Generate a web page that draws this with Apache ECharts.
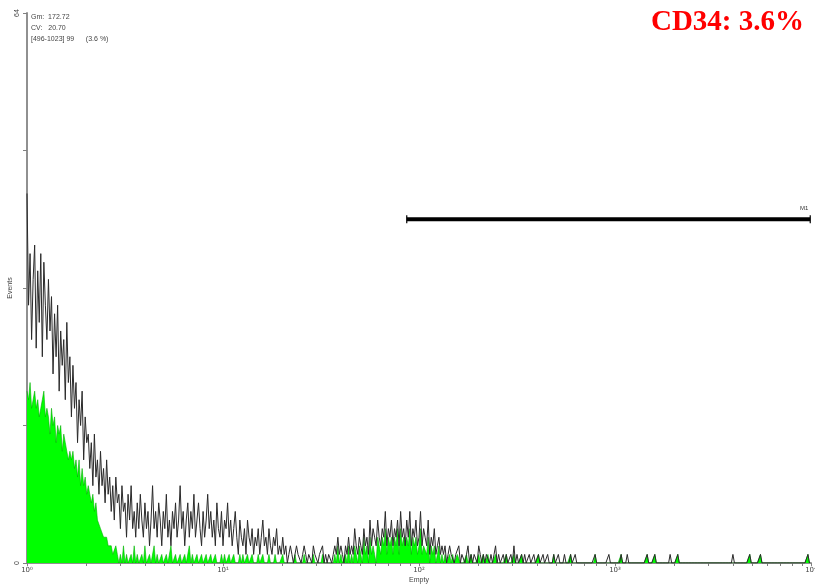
<!DOCTYPE html>
<html><head><meta charset="utf-8">
<script src="https://cdn.jsdelivr.net/npm/echarts@6/dist/echarts.min.js"></script>
<style>html,body{margin:0;padding:0;background:#fff}#c{width:815px;height:585px}</style>
</head><body><div id="c"></div>
<script>
// ---- data: heights per 2-channel bin (1024 channels over 4 log decades) ----
const channelsPerBin = 2;
const totalCounts = [
43,30,36,26,33,37,25,34,28,36,
24,35,30,26,33,27,31,22,29,24,
30,20,27,23,26,19,28,21,24,17,
23,18,21,14,19,16,20,12,17,14,
15,11,14,9,15,10,12,8,13,9,
11,7,12,8,10,6,9,5,10,7,
8,4,9,6,7,3,8,5,9,4,
6,3,7,4,8,5,3,7,4,6,
2,5,9,4,6,3,7,5,2,6,
4,8,3,5,2,6,4,7,3,5,
9,4,6,2,5,7,3,6,4,8,
3,5,7,4,2,6,3,5,8,4,
6,3,5,2,7,4,3,6,2,5,
4,7,3,5,2,4,6,3,1,5,
3,2,4,1,5,3,2,4,1,3,
2,4,1,3,5,2,3,1,4,2,
1,3,2,4,1,2,1,3,1,2,
0,1,2,1,0,1,2,1,1,0,
1,2,1,0,1,1,0,2,1,1,
0,1,1,2,0,1,0,1,1,0,
1,2,1,3,1,2,1,0,2,1,
3,1,2,1,4,2,1,3,2,1,
4,2,3,1,5,2,4,3,2,5,
3,2,4,3,6,2,4,3,5,2,
4,3,5,2,6,3,4,2,5,3,
6,2,4,3,5,2,3,6,2,4,
3,2,5,1,3,2,4,1,2,3,
1,2,1,2,0,1,2,1,1,0,
1,1,2,0,1,1,0,1,2,0,
1,0,1,1,0,2,1,0,1,0,
1,1,0,1,0,1,2,0,1,0,
0,1,0,1,0,0,1,0,2,0,
1,0,0,1,0,1,0,0,1,0,
0,1,0,0,1,0,0,1,0,0,
1,0,0,0,1,0,0,1,0,0,
0,1,0,0,0,1,0,0,1,0,
0,0,0,0,0,0,0,0,0,0,
0,1,0,0,0,0,0,0,0,0,
1,0,0,0,0,0,0,0,1,0,
0,0,1,0,0,0,0,0,0,0,
0,0,0,0,0,1,0,0,0,0,
1,0,0,0,0,0,0,0,0,0,
1,0,0,0,0,1,0,0,0,0,
0,0,0,0,0,0,0,0,0,0,
0,0,0,0,0,0,0,0,0,0,
0,0,0,0,0,0,0,0,0,0,
0,1,0,0,0,0,0,0,0,0,
0,0,1,0,0,0,0,0,0,1,
0,0,0,0,0,0,0,0,0,0,
0,0,0,0,0,0,0,0,0,0,
0,0,0,0,0,0,0,0,0,0,
1,0
];
const cd34Counts = [
20,19,21,18,19,20,18,19,17,18,
19,20,17,18,17,15,18,16,17,14,
16,15,16,13,15,14,14,12,13,12,
13,11,12,10,12,9,11,9,10,8,
9,8,7,8,6,7,5,5,4,4,
3,3,3,2,2,2,1,1,2,1,
0,1,0,2,0,1,0,0,1,0,
2,0,1,0,0,1,0,2,0,0,
1,0,0,2,0,1,0,0,1,0,
0,1,0,0,2,0,0,1,0,0,
1,0,0,1,0,0,2,0,1,0,
0,1,0,0,1,0,0,1,0,0,
1,0,0,1,0,0,0,1,0,1,
0,0,1,0,0,1,0,0,0,1,
0,1,0,0,1,0,0,1,0,0,
0,1,0,0,1,0,0,0,1,0,
0,0,1,0,0,0,0,1,0,0,
0,0,0,0,0,1,0,0,0,0,
0,1,0,0,0,0,0,1,0,0,
0,0,0,1,0,0,0,0,0,0,
0,1,0,2,0,1,0,0,1,0,
2,0,1,0,2,1,0,2,1,0,
3,1,2,0,3,1,2,1,0,3,
2,1,3,2,4,1,3,2,3,1,
3,2,4,1,4,2,3,2,3,2,
4,1,3,2,3,1,2,4,1,2,
2,1,3,0,2,1,2,0,1,2,
0,1,0,1,0,0,1,0,1,0,
0,1,1,0,0,0,0,1,0,0,
1,0,0,0,0,1,0,0,1,0,
0,1,0,0,0,0,1,0,0,0,
0,0,0,1,0,0,0,0,1,0,
0,0,0,1,0,0,0,0,0,0,
0,0,0,0,1,0,0,0,0,0,
0,0,0,0,1,0,0,0,0,0,
0,0,0,0,0,1,0,0,0,0,
0,0,0,0,0,0,0,0,0,0,
0,1,0,0,0,0,0,0,0,0,
0,0,0,0,0,0,0,0,1,0,
0,0,0,0,0,0,0,0,0,0,
0,0,0,0,0,1,0,0,0,0,
1,0,0,0,0,0,0,0,0,0,
0,0,0,0,0,1,0,0,0,0,
0,0,0,0,0,0,0,0,0,0,
0,0,0,0,0,0,0,0,0,0,
0,0,0,0,0,0,0,0,0,0,
0,0,0,0,0,0,0,0,0,0,
0,0,1,0,0,0,0,0,0,1,
0,0,0,0,0,0,0,0,0,0,
0,0,0,0,0,0,0,0,0,0,
0,0,0,0,0,0,0,0,0,0,
1,0
];
const markerRange = [496, 1023];
const markerLevel = 40;
const markerName = 'M1';
const xTickValues = [1,2,3,4,5,6,7,8,9,10,20,30,40,50,60,70,80,90,100,200,300,400,500,600,700,800,900,1000,2000,3000,4000,5000,6000,7000,8000,9000,10000];
const xLabelValues = [1,10,100,1000,10000];
const xTickLabels = ['10⁰','10¹','10²','10³','10⁴'];
const yTickLabels = [0, 64];
const statsLines = ['Gm:  172.72', 'CV:   20.70', '[496-1023] 99      (3.6 %)'];
const titleText = 'CD34: 3.6%';

const toPairs = arr => arr.map((v, i) => [i * channelsPerBin, v]);

const chart = echarts.init(document.getElementById('c'), null, {renderer: 'canvas'});
chart.setOption({
  animation: false,
  backgroundColor: '#fff',
  title: {
    text: titleText, right: 6, top: 3,
    textStyle: {color: '#ff0000', fontFamily: 'Liberation Serif', fontWeight: 'bold', fontSize: 29}
  },
  grid: {left: 27, right: 4, top: 13, bottom: 22, containLabel: false, outerBoundsMode: 'none'},
  xAxis: [
    {type: 'value', min: 0, max: 1024, show: false},
    {
      type: 'log', logBase: 10, min: 1, max: 10000, position: 'bottom',
      name: 'Empty', nameLocation: 'middle', nameGap: 14, nameMoveOverlap: false,
      nameTextStyle: {fontSize: 7, color: '#444', fontFamily: 'Liberation Sans'},
      axisLine: {show: true, onZero: false, lineStyle: {color: '#909090', width: 2}},
      axisTick: {show: true, length: 3, customValues: xTickValues, lineStyle: {color: '#808080', width: 1}},
      axisLabel: {
        show: true, customValues: xLabelValues, margin: 4, fontSize: 7, color: '#444', fontFamily: 'DejaVu Sans',
        formatter: v => xTickLabels[xLabelValues.indexOf(Math.round(v))] || ''
      },
      splitLine: {show: false}, minorTick: {show: false}
    }
  ],
  yAxis: {
    type: 'value', min: 0, max: 64, interval: 16,
    name: 'Events', nameLocation: 'middle', nameGap: 13, nameRotate: 90, nameMoveOverlap: false,
    nameTextStyle: {fontSize: 7, color: '#444', fontFamily: 'Liberation Sans'},
    axisLine: {show: true, lineStyle: {color: '#909090', width: 2}},
    axisTick: {show: true, length: 4, lineStyle: {color: '#808080'}},
    axisLabel: {show: true, customValues: yTickLabels, rotate: 90, margin: 6, fontSize: 7, color: '#444', fontFamily: 'Liberation Sans'},
    splitLine: {show: false}
  },
  graphic: statsLines.map((t, i) => ({
    type: 'text', left: 31, top: 14 + i * 11,
    style: {text: t, fontSize: 7, fill: '#444', fontFamily: 'Liberation Sans'}
  })),
  series: [
    {
      name: 'CD34', type: 'line', xAxisIndex: 0, data: toPairs(cd34Counts),
      symbol: 'none', smooth: false,
      lineStyle: {color: '#00b000', width: 0.6},
      areaStyle: {color: '#00ff00', opacity: 1},
      z: 2
    },
    {
      name: 'Total', type: 'line', xAxisIndex: 0, data: toPairs(totalCounts),
      symbol: 'none', smooth: false,
      lineStyle: {color: '#2a2a2a', width: 1},
      z: 3
    },
    {
      name: markerName, type: 'line', xAxisIndex: 0,
      data: [
        {value: [markerRange[0], markerLevel]},
        {value: [markerRange[1], markerLevel], label: {show: true, formatter: markerName, position: 'top', offset: [-6, 1], fontSize: 6, color: '#333', fontFamily: 'Liberation Sans'}}
      ],
      symbol: 'rect', symbolSize: [1.2, 8], itemStyle: {color: '#000'},
      lineStyle: {color: '#000', width: 4},
      z: 4
    }
  ]
});
</script>
</body></html>
